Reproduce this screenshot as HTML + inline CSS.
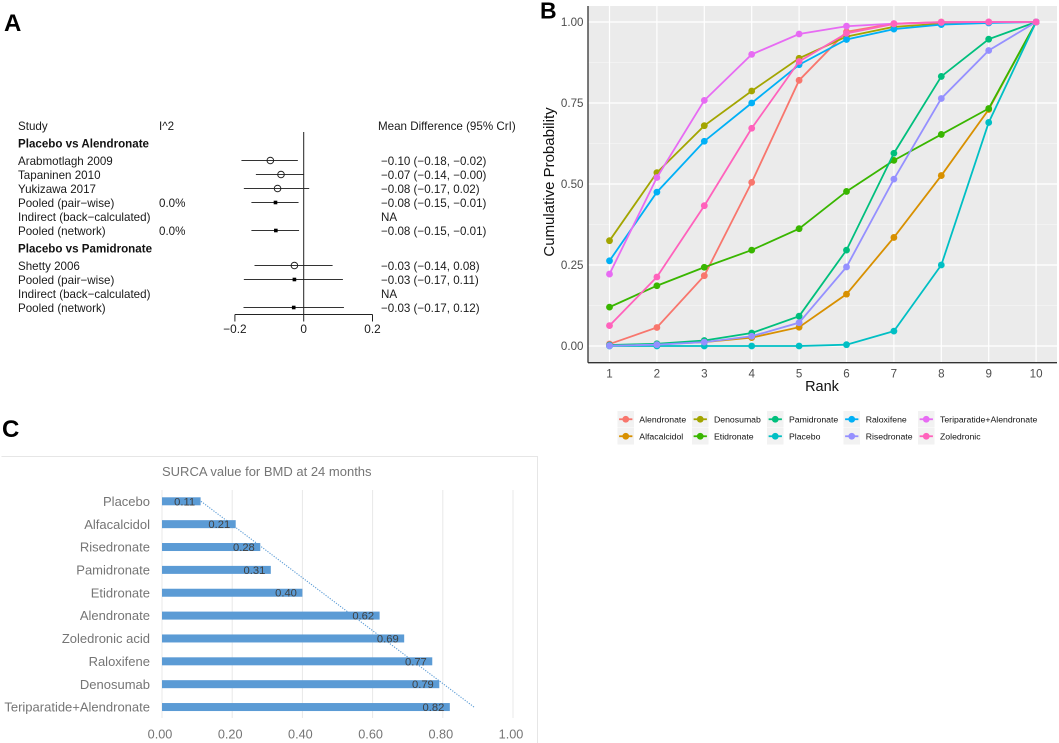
<!DOCTYPE html>
<html lang="en">
<head>
<meta charset="utf-8">
<title>Forest plot, rank probability and SUCRA values</title>
<style>
html,body{margin:0;padding:0;background:#fff;width:1059px;height:743px;overflow:hidden}
svg{display:block;font-family:"Liberation Sans",sans-serif;filter:blur(0.35px)}
</style>
</head>
<body>
<svg id="fig" xmlns="http://www.w3.org/2000/svg" width="1059" height="743" viewBox="0 0 1059 743">
  <text x="4" y="31" font-size="24" font-weight="bold" fill="#000">A</text>
  <text x="540" y="18.5" font-size="23" font-weight="bold" fill="#000">B</text>
  <text x="2" y="437" font-size="24" font-weight="bold" fill="#000">C</text>
  <g id="forest"></g>
  <g id="rank"></g>
  <g id="sucra"></g>
</svg>
<script>
// ---------- Panel A data ----------
var forestStudies = ["Arabmotlagh 2009","Tapaninen 2010","Yukizawa 2017","Pooled (pair\u2212wise)","Indirect (back\u2212calculated)","Pooled (network)","Shetty 2006","Pooled (pair\u2212wise)","Indirect (back\u2212calculated)","Pooled (network)"];
var forestGroups = ["Placebo vs Alendronate","Placebo vs Alendronate","Placebo vs Alendronate","Placebo vs Alendronate","Placebo vs Alendronate","Placebo vs Alendronate","Placebo vs Pamidronate","Placebo vs Pamidronate","Placebo vs Pamidronate","Placebo vs Pamidronate"];
var forestI2 = ["","","","0.0%","","0.0%","","","",""];
var forestMeans = [-0.097,-0.066,-0.076,-0.082,null,-0.081,-0.027,-0.027,null,-0.029];
var forestLows = [-0.181,-0.139,-0.174,-0.152,null,-0.152,-0.143,-0.174,null,-0.175];
var forestHighs = [-0.017,0.000,0.016,-0.015,null,-0.0135,0.084,0.114,null,0.117];
var forestKinds = ["study","study","study","pooled","none","pooled","study","pooled","none","pooled"];
var forestPrinted = ["\u22120.10 (\u22120.18, \u22120.02)","\u22120.07 (\u22120.14, \u22120.00)","\u22120.08 (\u22120.17, 0.02)","\u22120.08 (\u22120.15, \u22120.01)","NA","\u22120.08 (\u22120.15, \u22120.01)","\u22120.03 (\u22120.14, 0.08)","\u22120.03 (\u22120.17, 0.11)","NA","\u22120.03 (\u22120.17, 0.12)"];
var forestTicks = [-0.2,0,0.2];
var forestTickLabels = ["\u22120.2","0","0.2"];

// ---------- Panel B data ----------
var rankCategories = [1,2,3,4,5,6,7,8,9,10];
var rankYTicks = [0,0.25,0.5,0.75,1];
var rankYTickLabels = ["0.00","0.25","0.50","0.75","1.00"];
var rankNames = ["Alendronate","Alfacalcidol","Denosumab","Etidronate","Pamidronate","Placebo","Raloxifene","Risedronate","Teriparatide+Alendronate","Zoledronic"];
var rankAlendronate = [0.006,0.057,0.217,0.505,0.82,0.97,0.995,1,1,1];
var rankAlfacalcidol = [0.002,0.005,0.012,0.026,0.058,0.16,0.335,0.526,0.73,1];
var rankDenosumab = [0.325,0.535,0.68,0.787,0.888,0.955,0.985,0.995,0.999,1];
var rankEtidronate = [0.12,0.186,0.243,0.296,0.362,0.477,0.573,0.653,0.733,1];
var rankPamidronate = [0.003,0.007,0.017,0.04,0.092,0.296,0.595,0.832,0.947,1];
var rankPlacebo = [0,0,0,0,0,0.004,0.046,0.25,0.69,1];
var rankRaloxifene = [0.263,0.475,0.632,0.75,0.868,0.946,0.978,0.992,0.997,1];
var rankRisedronate = [0.001,0.004,0.012,0.03,0.072,0.244,0.515,0.764,0.912,1];
var rankTeriparatide = [0.222,0.52,0.758,0.9,0.963,0.987,0.995,0.999,1,1];
var rankZoledronic = [0.063,0.213,0.433,0.672,0.878,0.965,0.994,0.999,1,1];

// ---------- Panel C data ----------
var sucraCategories = ["Placebo","Alfacalcidol","Risedronate","Pamidronate","Etidronate","Alendronate","Zoledronic acid","Raloxifene","Denosumab","Teriparatide+Alendronate"];
var sucraValues = [0.11,0.21,0.28,0.31,0.40,0.62,0.69,0.77,0.79,0.82];
var sucraTicks = [0,0.2,0.4,0.6,0.8,1];

var NS = "http://www.w3.org/2000/svg";
function mk(tag, attrs, parent, txt) {
  var el = document.createElementNS(NS, tag);
  for (var k in attrs) el.setAttribute(k, attrs[k]);
  if (txt !== undefined) el.textContent = txt;
  parent.appendChild(el);
  return el;
}

// ========== Panel A ==========
(function () {
  var g = document.getElementById("forest");
  var fx = function (v) { return 303.7 + v * 344; };
  var rowY = [161,175,189,203,217,231,266,280,294,308];
  var TXT = "#1a1a1a", FS = 11.6, el;

  el = mk("text", {x:18,y:130,"font-size":FS,fill:TXT}, g, "Study");
  
  
  el = mk("text", {x:159,y:130,"font-size":FS,fill:TXT}, g, "I^2");
  
  
  el = mk("text", {x:378,y:130,"font-size":FS,fill:TXT}, g, "Mean Difference (95% CrI)");
  
  

  var lastGroup = null;
  forestStudies.forEach(function (s, i) {
    var y = rowY[i], t;
    if (forestGroups[i] !== lastGroup) {
      lastGroup = forestGroups[i];
      t = mk("text", {x:18,y:y-17.5+4,"font-size":FS,"font-weight":"bold",fill:"#111"}, g, lastGroup);
      
      
    }
    t = mk("text", {x:18,y:y+4,"font-size":FS,fill:TXT}, g, s);
    
    
    if (forestI2[i]) {
      t = mk("text", {x:159,y:y+4,"font-size":FS,fill:TXT}, g, forestI2[i]);
      
      
    }
    t = mk("text", {x:381,y:y+4,"font-size":FS,fill:TXT}, g, forestPrinted[i]);
    
    
    if (forestMeans[i] === null) return;
    var l = mk("line", {x1:fx(forestLows[i]),x2:fx(forestHighs[i]),y1:y-0.5,y2:y-0.5,stroke:"#333","stroke-width":1}, g);
    
    
    var m;
    if (forestKinds[i] === "study") {
      m = mk("circle", {cx:fx(forestMeans[i]),cy:y-0.5,r:3.3,fill:"#fff","fill-opacity":0,stroke:"#222","stroke-width":1}, g);
      
      
    } else {
      m = mk("rect", {x:fx(forestMeans[i])-1.8,y:y-2.3,width:3.6,height:3.6,fill:"#000"}, g);
      
      
    }
  });

  el = mk("line", {x1:fx(0),x2:fx(0),y1:132,y2:314.5,stroke:"#222","stroke-width":1}, g);
  
  
  el = mk("line", {x1:fx(forestTicks[0]),x2:fx(forestTicks[forestTicks.length-1]),y1:314.5,y2:314.5,stroke:"#222","stroke-width":1}, g);
  
  
  forestTicks.forEach(function (v, i) {
    var tk = mk("line", {x1:fx(v),x2:fx(v),y1:314.5,y2:321.5,stroke:"#222","stroke-width":1}, g);
    
    
    var lb = mk("text", {x:fx(v),y:333,"font-size":11.8,fill:TXT,"text-anchor":"middle"}, g, forestTickLabels[i]);
    
    
  });
})();

// ========== Panel B ==========
(function () {
  var g = document.getElementById("rank");
  var px = function (r) { return 609.5 + (r - 1) * 47.4; };
  var py = function (v) { return 346 - v * 324; };
  var L = 588, R = 1057, T = 6, B = 362.7, el;
  var colors = ["#F8766D","#D89000","#A3A500","#39B600","#00BF7D","#00BFC4","#00B0F6","#9590FF","#E76BF3","#FF62BC"];
  var seriesValues = [rankAlendronate,rankAlfacalcidol,rankDenosumab,rankEtidronate,rankPamidronate,rankPlacebo,rankRaloxifene,rankRisedronate,rankTeriparatide,rankZoledronic];

  el = mk("rect", {x:L,y:T,width:R-L,height:B-T,fill:"#ebebeb"}, g);
  
  

  for (var i = 0; i < rankYTicks.length - 1; i++) {
    var mid = (rankYTicks[i] + rankYTicks[i+1]) / 2;
    el = mk("line", {x1:L,x2:R,y1:py(mid),y2:py(mid),stroke:"#f5f5f5","stroke-width":0.8}, g);
    
    
  }
  rankYTicks.forEach(function (v, i) {
    var l = mk("line", {x1:L,x2:R,y1:py(v),y2:py(v),stroke:"#fff","stroke-width":1.2}, g);
    
    
    var t = mk("text", {x:583.5,y:py(v)+4.2,"font-size":11.6,fill:"#4d4d4d","text-anchor":"end"}, g, rankYTickLabels[i]);
    
    
  });
  rankCategories.forEach(function (r) {
    var l = mk("line", {x1:px(r),x2:px(r),y1:T,y2:B,stroke:"#fff","stroke-width":1.2}, g);
    
    
    var t = mk("text", {x:px(r),y:377.5,"font-size":11.6,fill:"#4d4d4d","text-anchor":"middle"}, g, String(r));
    
    
  });

  seriesValues.forEach(function (vals, s) {
    var pts = vals.map(function (v, k) { return px(rankCategories[k]) + "," + py(v); }).join(" ");
    var line = mk("polyline", {points:pts,fill:"none",stroke:colors[s],"stroke-width":1.8}, g);
    
    
    vals.forEach(function (v, k) {
      var c = mk("circle", {cx:px(rankCategories[k]),cy:py(v),r:3.4,fill:colors[s]}, g);
      
      
    });
  });

  el = mk("line", {x1:L,x2:L,y1:T,y2:B,stroke:"#333","stroke-width":1.3}, g);
  
  
  el = mk("line", {x1:L,x2:R,y1:B,y2:B,stroke:"#333","stroke-width":1.3}, g);
  
  
  el = mk("text", {x:822,y:391,"font-size":14.5,fill:"#111","text-anchor":"middle"}, g, "Rank");
  
  
  el = mk("text", {transform:"translate(554,182) rotate(-90)","font-size":15,fill:"#111","text-anchor":"middle"}, g, "Cumulative Probability");
  
  

  var keyX = [617.5,692,767,843.5,918];
  var textX = [639.3,714,789,865.7,940];
  var keyY = [411,428];
  rankNames.forEach(function (n, i) {
    var col = Math.floor(i / 2), row = i % 2;
    var box = mk("rect", {x:keyX[col],y:keyY[row],width:16.5,height:16.5,fill:"#f2f2f2"}, g);
    
    
    var cy = keyY[row] + 8.25;
    var ln = mk("line", {x1:keyX[col]+1.6,x2:keyX[col]+14.9,y1:cy,y2:cy,stroke:colors[i],"stroke-width":1.8}, g);
    
    
    var dot = mk("circle", {cx:keyX[col]+8.25,cy:cy,r:3.4,fill:colors[i]}, g);
    
    
    var tx = mk("text", {x:textX[col],y:cy+3.2,"font-size":8.7,fill:"#111"}, g, n);
    
    
  });
})();

// ========== Panel C ==========
(function () {
  var g = document.getElementById("sucra");
  var sx = function (v) { return 162 + v * 351; };
  var sy = function (i) { return 501.3 + i * 22.86; };
  var el;
  el = mk("path", {d:"M1.5 456.5H537.5V743",fill:"none",stroke:"#e6e6e6","stroke-width":1}, g);
  
  
  el = mk("text", {x:162,y:476,"font-size":13,fill:"#757575"}, g, "SURCA value for BMD at 24 months");
  
  

  sucraTicks.forEach(function (v) {
    var l = mk("line", {x1:sx(v),x2:sx(v),y1:490,y2:718,stroke:"#e8e8e8","stroke-width":1}, g);
    
    
    var t = mk("text", {x:sx(v)-2,y:738.5,"font-size":12.7,fill:"#757575","text-anchor":"middle"}, g, v.toFixed(2));
    
    
  });

  sucraCategories.forEach(function (c, i) {
    var b = mk("rect", {x:sx(0),y:sy(i)-4,width:sx(sucraValues[i])-sx(0),height:8,fill:"#5b9bd5"}, g);
    
    
    var t = mk("text", {x:150,y:sy(i)+4.6,"font-size":13,fill:"#757575","text-anchor":"end"}, g, c);
    
    
  });

  // linear trend through the bar values
  var n = sucraValues.length, sumV = 0, sumXY = 0, sumXX = 0;
  sucraValues.forEach(function (v) { sumV += v; });
  var meanV = sumV / n, meanI = (n - 1) / 2;
  sucraValues.forEach(function (v, i) { sumXY += (i - meanI) * (v - meanV); sumXX += (i - meanI) * (i - meanI); });
  var slope = sumXY / sumXX;
  var trend = mk("line", {x1:sx(meanV - meanI * slope),y1:sy(0),x2:sx(meanV + meanI * slope),y2:sy(n - 1),stroke:"#5b9bd5","stroke-width":1.1,"stroke-dasharray":"1.2 1.4"}, g);
  
  

  sucraValues.forEach(function (v, i) {
    var t = mk("text", {x:sx(v)-5.5,y:sy(i)+4,"font-size":11.2,fill:"#404040","text-anchor":"end"}, g, v.toFixed(2));
    
    
  });
})();
</script>
</body>
</html>
